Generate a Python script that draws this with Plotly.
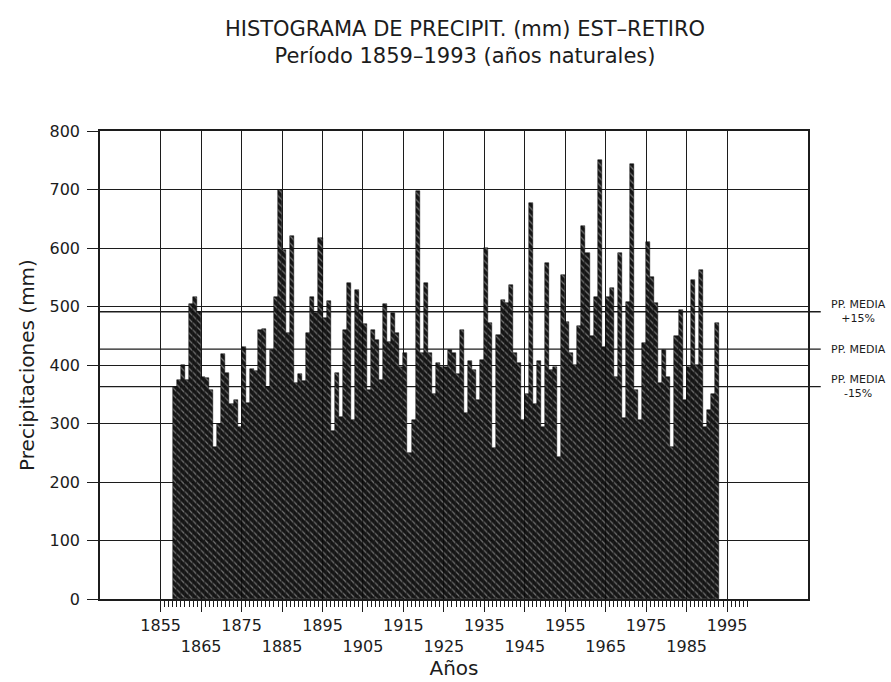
import plotly.graph_objects as go

# ---- data ----
years = list(range(1859, 1994))
precip = [
    363, 374, 400, 375, 505, 517, 490, 380, 378, 357,
    260, 300, 419, 386, 334, 340, 294, 431, 335, 394,
    390, 460, 462, 363, 426, 517, 700, 597, 454, 620,
    370, 385, 372, 454, 517, 489, 617, 480, 509, 288,
    386, 311, 460, 540, 306, 529, 494, 470, 357, 460,
    443, 374, 505, 440, 489, 454, 397, 420, 250, 306,
    697, 420, 540, 420, 351, 403, 397, 397, 426, 420,
    385, 460, 318, 406, 391, 340, 409, 600, 471, 258,
    451, 511, 506, 537, 420, 403, 306, 351, 677, 334,
    406, 294, 574, 391, 397, 243, 554, 474, 420, 400,
    466, 638, 591, 449, 517, 751, 430, 517, 531, 380,
    591, 310, 508, 743, 357, 306, 437, 611, 551, 506,
    369, 426, 380, 260, 450, 494, 340, 397, 546, 400,
    563, 294, 323, 351, 471,
]
pp_media = 427
ref_lines = [
    ("PP. MEDIA<br>+15%", pp_media * 1.15),
    ("PP. MEDIA", pp_media),
    ("PP. MEDIA<br>-15%", pp_media * 0.85),
]
decade_ticks = list(range(1855, 2000, 10))
decade_text = [str(v) if i % 2 == 0 else "<br>" + str(v) for i, v in enumerate(decade_ticks)]
year_ticks = list(range(1855, 2001))
y_ticks = list(range(0, 801, 100))

FONT = "DejaVu Sans"
INK = "#1c1c1c"
BAR = "#161616"

fig = go.Figure()
fig.add_trace(go.Bar(
    x=years, y=precip, width=1, offset=-1,
    marker=dict(
        color=BAR,
        line=dict(color="#000000", width=0.5),
        pattern=dict(shape="\\", fgcolor="#cfcfcf", bgcolor=BAR, size=5, solidity=0.25),
    ),
    showlegend=False,
))

shapes = []
annotations = []
for label, val in ref_lines:
    shapes.append(dict(type="line", xref="paper", yref="y", x0=0, x1=1.018,
                       y0=val, y1=val, line=dict(color=INK, width=1.3), layer="below"))
    annotations.append(dict(xref="paper", yref="y", x=1.03, y=val, text=label,
                            showarrow=False, xanchor="left", yanchor="middle",
                            align="center", font=dict(family=FONT, size=11, color=INK)))

fig.update_layout(
    width=891, height=682,
    margin=dict(l=100, r=83, t=131, b=83),
    paper_bgcolor="white", plot_bgcolor="white",
    bargap=0,
    title=dict(
        text="HISTOGRAMA DE PRECIPIT. (mm) EST–RETIRO<br>Período 1859–1993 (años naturales)",
        x=465 / 891, xanchor="center", xref="container",
        y=1 - 36 / 682, yanchor="top", yref="container",
        font=dict(family=FONT, size=21, color=INK),
    ),
    shapes=shapes,
    annotations=annotations,
    xaxis=dict(
        range=[1840, 2015],
        automargin=False,
        tickmode="array", tickvals=decade_ticks, ticktext=decade_text,
        tickangle=0,
        ticks="outside", ticklen=11, tickwidth=1.2, tickcolor=INK,
        minor=dict(tickmode="array", tickvals=year_ticks, ticks="outside",
                   ticklen=6, tickwidth=1, tickcolor=INK, showgrid=False),
        showgrid=True, gridcolor=INK, gridwidth=1.3,
        showline=True, linecolor=INK, linewidth=1.5, mirror=True,
        zeroline=False,
        tickfont=dict(family=FONT, size=16, color=INK),
        title=dict(text="Años", standoff=2, font=dict(family=FONT, size=20, color=INK)),
    ),
    yaxis=dict(
        range=[0, 800],
        automargin=False,
        tickmode="array", tickvals=y_ticks,
        ticks="outside", ticklen=11, tickwidth=1.2, tickcolor=INK,
        ticklabelstandoff=4,
        showgrid=True, gridcolor=INK, gridwidth=1.3,
        showline=True, linecolor=INK, linewidth=1.5, mirror=True,
        zeroline=False,
        tickfont=dict(family=FONT, size=16, color=INK),
        title=dict(text="Precipitaciones (mm)", standoff=10,
                   font=dict(family=FONT, size=20, color=INK)),
    ),
)

fig.write_html("out.html")
